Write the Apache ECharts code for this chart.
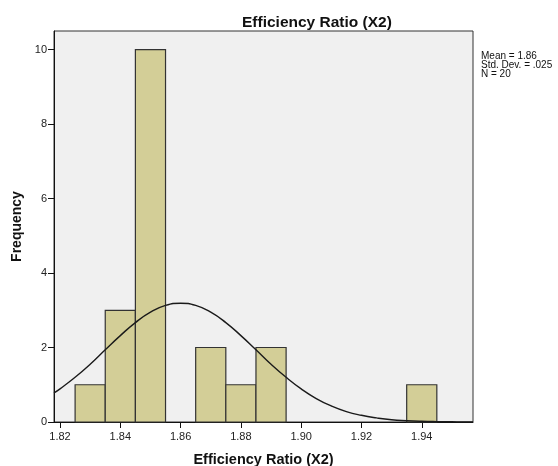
<!DOCTYPE html>
<html>
<head>
<meta charset="utf-8">
<script src="https://cdn.jsdelivr.net/npm/echarts@6/dist/echarts.min.js"></script>
<style>
  html, body { margin: 0; padding: 0; background: #ffffff; }
  #chart { width: 558px; height: 466px; }
</style>
</head>
<body>
<div id="chart"></div>
<script>
// Histogram bins (lower edge, upper edge) and their counts
const binStart = [1.825, 1.835, 1.845, 1.865, 1.875, 1.885, 1.935];
const binEnd   = [1.835, 1.845, 1.855, 1.875, 1.885, 1.895, 1.945];
const counts   = [1, 3, 10, 2, 1, 2, 1];

// Fitted normal curve, sampled along the axis
const curveX = [1.818, 1.820, 1.825, 1.830, 1.835, 1.840, 1.845, 1.850, 1.855, 1.860,
                1.865, 1.870, 1.875, 1.880, 1.885, 1.890, 1.895, 1.900, 1.905, 1.910,
                1.915, 1.920, 1.925, 1.930, 1.935, 1.940, 1.945, 1.950, 1.955, 1.957];
const curveY = [0.78, 0.89, 1.20, 1.55, 1.94, 2.32, 2.67, 2.95, 3.13, 3.19,
                3.13, 2.95, 2.67, 2.32, 1.94, 1.55, 1.20, 0.89, 0.63, 0.43,
                0.28, 0.18, 0.11, 0.06, 0.035, 0.019, 0.010, 0.005, 0.002, 0.002];

// Axis tick labels
const xTicks = [1.82, 1.84, 1.86, 1.88, 1.90, 1.92, 1.94];
const yTicks = [0, 2, 4, 6, 8, 10];

const statLines = ['Mean = 1.86', 'Std. Dev. = .025', 'N = 20'];
const chartTitle = 'Efficiency Ratio (X2)';
const xName = 'Efficiency Ratio (X2)';
const yName = 'Frequency';

const bins = binStart.map((s, i) => [s, binEnd[i], counts[i]]);
const curve = curveX.map((x, i) => [x, curveY[i]]);

const FONT = '"Liberation Sans", Arial, sans-serif';

const chart = echarts.init(document.getElementById('chart'), null, { renderer: 'canvas' });
chart.setOption({
  animation: false,
  backgroundColor: '#ffffff',
  title: {
    text: chartTitle,
    left: 237,
    top: 10,
    textStyle: { fontFamily: FONT, fontSize: 15.5, fontWeight: 'bold', color: '#111' }
  },
  graphic: [{
    type: 'text',
    left: 481,
    top: 51,
    style: {
      text: statLines.join('\n'),
      font: '10px ' + FONT,
      lineHeight: 9,
      fill: '#111'
    }
  }],
  grid: {
    left: 54, right: 85, top: 31, bottom: 44,
    outerBoundsMode: 'none',
    containLabel: false,
    show: true,
    backgroundColor: '#f0f0f0',
    borderColor: '#333',
    borderWidth: 1
  },
  xAxis: {
    type: 'value',
    min: 1.818,
    max: 1.957,
    name: xName,
    nameLocation: 'middle',
    nameGap: 30,
    nameTextStyle: { fontFamily: FONT, fontSize: 14.5, fontWeight: 'bold', color: '#111' },
    axisLine: { show: true, lineStyle: { color: '#111', width: 1 } },
    axisTick: { show: true, customValues: xTicks, length: 6, lineStyle: { color: '#111' } },
    axisLabel: {
      customValues: xTicks,
      formatter: v => v.toFixed(2),
      margin: 9,
      fontFamily: FONT, fontSize: 11, color: '#222'
    },
    splitLine: { show: false }
  },
  yAxis: {
    type: 'value',
    min: 0,
    max: 10.5,
    name: yName,
    nameLocation: 'middle',
    nameGap: 30,
    nameRotate: 90,
    nameTextStyle: { fontFamily: FONT, fontSize: 14, fontWeight: 'bold', color: '#111' },
    axisLine: { show: true, lineStyle: { color: '#111', width: 1 } },
    axisTick: { show: true, customValues: yTicks, length: 6, lineStyle: { color: '#111' } },
    axisLabel: {
      customValues: yTicks,
      margin: 7,
      fontFamily: FONT, fontSize: 11, color: '#222'
    },
    splitLine: { show: false }
  },
  series: [
    {
      type: 'custom',
      data: bins,
      encode: { x: [0, 1], y: 2 },
      z: 2,
      renderItem: function (params, api) {
        const top = api.coord([api.value(0), api.value(2)]);
        const base = api.coord([api.value(1), 0]);
        return {
          type: 'rect',
          shape: { x: top[0], y: top[1], width: base[0] - top[0], height: base[1] - top[1] },
          style: { fill: '#d3ce97', stroke: '#333', lineWidth: 1.2 }
        };
      }
    },
    {
      type: 'line',
      data: curve,
      smooth: true,
      showSymbol: false,
      symbol: 'none',
      z: 3,
      lineStyle: { color: '#1a1a1a', width: 1.4 }
    }
  ]
});
</script>
</body>
</html>
